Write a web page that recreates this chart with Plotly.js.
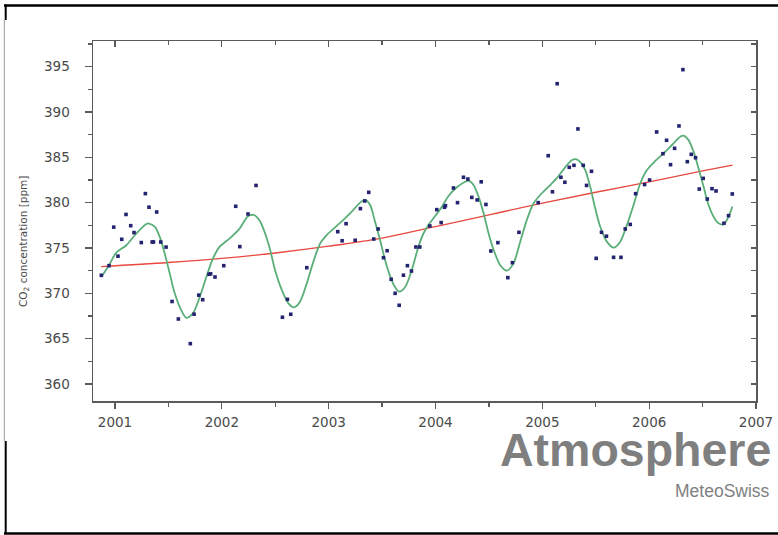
<!DOCTYPE html>
<html><head><meta charset="utf-8">
<script src="https://cdn.plot.ly/plotly-3.0.1.min.js"></script>
<style>html,body{margin:0;padding:0;background:#fff;} #chart{width:778px;height:535px;}</style>
</head><body><div id="chart"></div>
<script>
// Monthly-ish observed CO2 concentrations (ppm)
const obsYears = [2000.872,2000.944,2001.028,2000.988,2001.063,2001.103,2001.147,2001.178,2001.246,2001.284,2001.318,2001.348,2001.360,2001.39,2001.428,2001.478,2001.534,2001.593,2001.705,2001.74,2001.784,2001.821,2001.88,2001.895,2001.936,2002.018,2002.13,2002.168,2002.245,2002.32,2002.567,2002.614,2002.645,2002.795,2003.085,2003.126,2003.163,2003.248,2003.297,2003.338,2003.375,2003.422,2003.463,2003.513,2003.547,2003.585,2003.622,2003.66,2003.7,2003.737,2003.775,2003.816,2003.853,2003.947,2004.012,2004.053,2004.084,2004.093,2004.168,2004.206,2004.262,2004.303,2004.34,2004.39,2004.428,2004.472,2004.518,2004.584,2004.677,2004.72,2004.781,2004.961,2005.055,2005.095,2005.139,2005.174,2005.211,2005.252,2005.296,2005.333,2005.383,2005.414,2005.46,2005.504,2005.554,2005.6,2005.667,2005.736,2005.776,2005.823,2005.873,2005.957,2006.004,2006.07,2006.129,2006.163,2006.2,2006.238,2006.279,2006.316,2006.357,2006.394,2006.434,2006.469,2006.506,2006.544,2006.588,2006.626,2006.7,2006.743,2006.778];
const obsCO2 = [371.99,373.05,374.1,377.3,375.96,378.7,377.46,376.7,375.6,381.0,379.5,375.66,375.66,378.97,375.66,375.1,369.1,367.17,364.45,367.7,369.8,369.3,372.1,372.15,371.8,373.05,379.6,375.15,378.75,381.9,367.36,369.34,367.69,372.83,376.8,375.8,377.68,375.85,379.34,380.19,381.14,375.99,377.1,373.93,374.7,371.55,370.0,368.68,372.0,373.05,372.46,375.11,375.11,377.43,379.23,377.8,379.49,379.67,381.62,380.0,382.8,382.6,380.58,380.3,382.3,379.8,374.67,375.59,371.73,373.38,376.73,380.0,385.18,381.2,393.12,382.8,382.25,383.9,384.12,388.13,384.12,381.9,383.46,373.86,376.73,376.3,373.97,373.97,377.1,377.6,380.99,382.0,382.5,387.8,385.4,386.88,384.19,385.99,388.46,394.67,384.52,385.33,384.96,381.5,382.68,380.4,381.54,381.29,377.73,378.57,380.96];

// Seasonal smooth fit (green)
const fitYears = [2000.872,2000.944,2001.012,2001.106,2001.2,2001.293,2001.318,2001.372,2001.418,2001.465,2001.512,2001.559,2001.612,2001.668,2001.73,2001.793,2001.855,2001.918,2001.98,2002.074,2002.168,2002.245,2002.302,2002.355,2002.405,2002.452,2002.498,2002.56,2002.623,2002.676,2002.732,2002.795,2002.857,2002.92,2002.982,2003.06,2003.138,2003.216,2003.294,2003.341,2003.388,2003.434,2003.481,2003.528,2003.575,2003.622,2003.66,2003.716,2003.778,2003.84,2003.887,2003.934,2003.997,2004.06,2004.122,2004.2,2004.278,2004.309,2004.356,2004.403,2004.45,2004.497,2004.544,2004.606,2004.668,2004.73,2004.793,2004.855,2004.918,2004.98,2005.058,2005.136,2005.214,2005.277,2005.314,2005.362,2005.402,2005.448,2005.495,2005.542,2005.604,2005.667,2005.729,2005.792,2005.854,2005.917,2005.979,2006.057,2006.135,2006.213,2006.291,2006.322,2006.369,2006.416,2006.462,2006.509,2006.556,2006.603,2006.65,2006.696,2006.743,2006.778];
const fitCO2 = [371.8,373.1,374.5,375.3,376.6,377.65,377.7,377.35,376.25,374.4,372.2,370.0,368.35,367.3,367.8,369.6,371.8,373.87,375.15,376.07,377.17,378.5,378.64,378.0,376.6,374.8,372.57,370.4,368.9,368.46,369.08,371.1,373.5,375.5,376.43,377.28,378.1,379.0,380.0,380.3,379.74,377.9,375.88,373.68,371.9,370.67,370.18,370.7,372.57,375.14,376.6,377.54,378.53,379.56,380.74,381.7,382.3,382.42,381.95,380.66,378.83,376.6,374.8,373.1,372.5,373.3,375.7,378.1,379.93,380.85,381.77,382.7,383.9,384.7,384.8,384.4,383.6,381.77,379.38,377.35,375.7,375.03,375.7,377.54,379.74,382.14,383.6,384.6,385.44,386.36,387.28,387.39,386.9,385.6,383.8,381.77,379.74,378.45,377.72,377.6,378.45,379.56];

// Long-term trend (red)
const trendYears = [2000.87,2001.5,2002.0,2002.5,2003.0,2003.5,2004.0,2004.5,2005.0,2005.5,2006.0,2006.5,2006.78];
const trendCO2 = [372.95,373.4,373.85,374.45,375.2,376.1,377.35,378.65,379.95,381.15,382.3,383.5,384.15];

const xTickVals = [2001,2002,2003,2004,2005,2006,2007];
const xTickText = ['2001','2002','2003','2004','2005','2006','2007'];
const yTickVals = [360,365,370,375,380,385,390,395];
const yTickText = ['360','365','370','375','380','385','390','395'];

const yTitle = 'CO<sub>2</sub> concentration [ppm]';
const brand = 'Atmosphere';
const source = 'MeteoSwiss';

// pixel helpers for decorations (plot area 93..756 x 41..401)
const L = 93, R = 756, T = 41, B = 401;
const px = v => (v - L) / (R - L);
const py = v => (B - v) / (B - T);

const axisCol = '#5a5a5a';
const fnt = 'DejaVu Sans, Verdana, sans-serif';
const xr = [2000.794, 2007.0];
const yr = [358.125, 397.83];

const traces = [
  {x: trendYears, y: trendCO2, type: 'scatter', mode: 'lines', line: {color: '#e8483e', width: 1.3, shape: 'spline'}, hoverinfo: 'skip', showlegend: false},
  {x: fitYears, y: fitCO2, type: 'scatter', mode: 'lines', line: {color: '#5aae78', width: 1.8, shape: 'spline', smoothing: 0.8}, hoverinfo: 'skip', showlegend: false},
  {x: obsYears, y: obsCO2, type: 'scatter', mode: 'markers', marker: {color: '#232370', size: 3.6, symbol: 'square', line: {width: 0}}, showlegend: false},
  {x: [null], y: [null], xaxis: 'x2', yaxis: 'y2', type: 'scatter', mode: 'markers', showlegend: false, hoverinfo: 'skip'}
];

const layout = {
  width: 778, height: 535,
  margin: {l: L, r: 778 - R, t: T, b: 535 - B, pad: 0},
  paper_bgcolor: '#ffffff', plot_bgcolor: '#ffffff',
  showlegend: false,
  xaxis: {
    range: xr, tickmode: 'array', tickvals: xTickVals, ticktext: xTickText,
    ticks: 'outside', ticklen: 6, tickwidth: 1.3, tickcolor: axisCol,
    minor: {dtick: 0.5, tick0: 2000, ticks: 'outside', ticklen: 4, tickwidth: 1.3, tickcolor: axisCol},
    showline: true, linecolor: axisCol, linewidth: 1.5, showgrid: false, zeroline: false,
    tickfont: {family: fnt, size: 13.5, color: '#4a4a4a'}, ticklabelstandoff: 2
  },
  yaxis: {
    range: yr, tickmode: 'array', tickvals: yTickVals, ticktext: yTickText,
    ticks: 'outside', ticklen: 7, tickwidth: 1.3, tickcolor: axisCol,
    minor: {dtick: 2.5, tick0: 0, ticks: 'outside', ticklen: 4, tickwidth: 1.3, tickcolor: axisCol},
    showline: true, linecolor: axisCol, linewidth: 1.5, showgrid: false, zeroline: false,
    tickfont: {family: fnt, size: 13.5, color: '#4a4a4a'}, ticklabelstandoff: 12
  },
  xaxis2: {
    overlaying: 'x', side: 'top', anchor: 'y', range: xr,
    tickmode: 'array', tickvals: xTickVals, showticklabels: false,
    ticks: 'inside', ticklen: 6, tickwidth: 1.3, tickcolor: axisCol,
    minor: {dtick: 0.5, tick0: 2000, ticks: 'inside', ticklen: 3.5, tickwidth: 1.3, tickcolor: axisCol},
    showline: true, linecolor: axisCol, linewidth: 1.5, showgrid: false, zeroline: false
  },
  yaxis2: {
    overlaying: 'y', side: 'right', anchor: 'x', range: yr,
    tickmode: 'array', tickvals: yTickVals, showticklabels: false,
    ticks: 'inside', ticklen: 5, tickwidth: 1.3, tickcolor: axisCol,
    minor: {dtick: 2.5, tick0: 0, ticks: 'inside', ticklen: 5, tickwidth: 1.3, tickcolor: axisCol},
    showline: true, linecolor: axisCol, linewidth: 1.5, showgrid: false, zeroline: false
  },
  annotations: [
    {text: yTitle, xref: 'paper', yref: 'paper', x: px(24), y: py(242), xanchor: 'center', yanchor: 'middle',
     textangle: -90, showarrow: false, font: {family: fnt, size: 10.5, color: '#4a4a4a'}},
    {text: '<b>' + brand + '</b>', xref: 'paper', yref: 'paper', x: px(772), y: py(477.5), xanchor: 'right', yanchor: 'bottom',
     height: 48, valign: 'bottom', borderpad: 0,
     showarrow: false, font: {family: 'Liberation Sans, Arial, sans-serif', size: 46.5, color: '#7f7f7f'}},
    {text: source, xref: 'paper', yref: 'paper', x: px(772), y: py(491), xanchor: 'right', yanchor: 'middle',
     showarrow: false, font: {family: 'Liberation Sans, Arial, sans-serif', size: 17.5, color: '#808080'}}
  ],
  shapes: [
    {type: 'line', xref: 'paper', yref: 'paper', x0: px(4), x1: px(778), y0: py(5.5), y1: py(5.5), line: {color: '#000', width: 2.5}},
    {type: 'line', xref: 'paper', yref: 'paper', x0: px(4), x1: px(778), y0: py(533.5), y1: py(533.5), line: {color: '#000', width: 2.5}},
    {type: 'line', xref: 'paper', yref: 'paper', x0: px(5.7), x1: px(5.7), y0: py(4.5), y1: py(20), line: {color: '#000', width: 2}},
    {type: 'line', xref: 'paper', yref: 'paper', x0: px(4.3), x1: px(4.3), y0: py(20), y1: py(441), line: {color: '#9a9a9a', width: 1}},
    {type: 'line', xref: 'paper', yref: 'paper', x0: px(5.7), x1: px(5.7), y0: py(441), y1: py(534), line: {color: '#000', width: 2}}
  ]
};

Plotly.newPlot('chart', traces, layout, {displayModeBar: false, staticPlot: true});
</script>
</body></html>
